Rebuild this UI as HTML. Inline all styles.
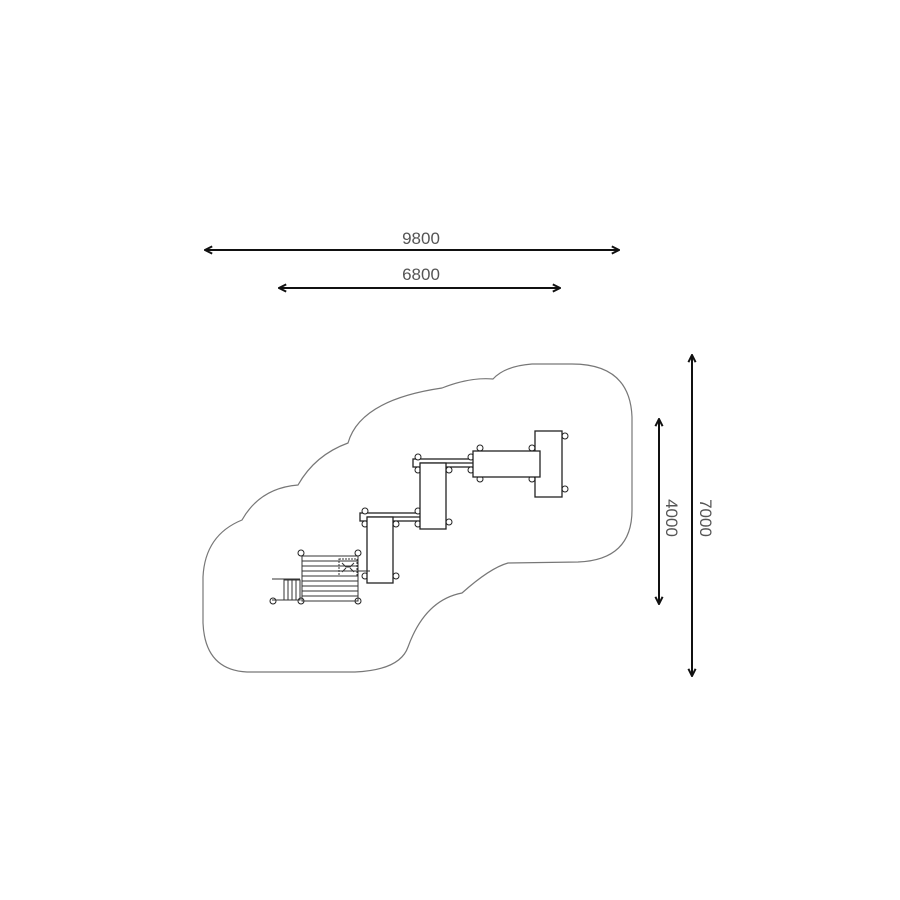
<!DOCTYPE html>
<html><head><style>
html,body{margin:0;padding:0;background:#fff;}
svg{display:block;}
text{font-family:"Liberation Sans",sans-serif;font-size:17px;fill:#555;}
</style></head><body>
<svg width="900" height="900" viewBox="0 0 900 900" xmlns="http://www.w3.org/2000/svg">
<defs>
<marker id="a" viewBox="0 0 10 10" refX="9" refY="5" markerWidth="9" markerHeight="9" orient="auto-start-reverse" markerUnits="userSpaceOnUse"><path d="M1,1 L9,5 L1,9" fill="none" stroke="#111" stroke-width="2.2"/></marker>
</defs>
<g stroke="#111" stroke-width="2" fill="none">
<line x1="205" y1="250" x2="619" y2="250" marker-start="url(#a)" marker-end="url(#a)"/>
<line x1="279" y1="288" x2="560" y2="288" marker-start="url(#a)" marker-end="url(#a)"/>
<line x1="659" y1="419" x2="659" y2="604" marker-start="url(#a)" marker-end="url(#a)"/>
<line x1="692" y1="355" x2="692" y2="676" marker-start="url(#a)" marker-end="url(#a)"/>
</g>
<text x="421" y="244" text-anchor="middle">9800</text>
<text x="421" y="280" text-anchor="middle">6800</text>
<text transform="translate(666,518) rotate(90)" text-anchor="middle">4000</text>
<text transform="translate(700,518) rotate(90)" text-anchor="middle">7000</text>
<path d="M247,672 L355,672 Q400,670 408,647 Q425,600 462,593 Q490,568 508,563 L578,562 Q632,560 632,510 L632,417 Q630,364 572,364 L532,364 Q505,366 493,379 Q470,377 442,388 Q360,400 348,443 Q315,455 298,485 Q260,488 242,520 Q205,535 203,577 L203,623 Q205,670 247,672 Z" fill="none" stroke="#777" stroke-width="1.2"/>
<g stroke="#222" stroke-width="1.3" fill="#fff">
<rect x="413" y="459" width="62" height="8"/>
<line x1="420" y1="463" x2="475" y2="463"/>
<rect x="360" y="513" width="63" height="8"/>
<line x1="367" y1="517" x2="423" y2="517"/>
<g fill="#fff" stroke-width="1">
<circle cx="565" cy="436" r="3"/><circle cx="565" cy="489" r="3"/>
<circle cx="480" cy="448" r="3"/><circle cx="532" cy="448" r="3"/>
<circle cx="480" cy="479" r="3"/><circle cx="532" cy="479" r="3"/>
<circle cx="418" cy="457" r="3"/><circle cx="418" cy="470" r="3"/><circle cx="471" cy="457" r="3"/><circle cx="471" cy="470" r="3"/>
<circle cx="449" cy="470" r="3"/><circle cx="449" cy="522" r="3"/>
<circle cx="365" cy="511" r="3"/><circle cx="365" cy="524" r="3"/><circle cx="418" cy="511" r="3"/><circle cx="418" cy="524" r="3"/>
<circle cx="396" cy="524" r="3"/><circle cx="396" cy="576" r="3"/><circle cx="365" cy="576" r="3"/>
<circle cx="301" cy="553" r="3"/><circle cx="358" cy="553" r="3"/><circle cx="301" cy="601" r="3"/><circle cx="358" cy="601" r="3"/>
<circle cx="273" cy="601" r="3"/>
</g>
<rect x="535" y="431" width="27" height="66"/>
<rect x="473" y="451" width="67" height="26"/>
<rect x="420" y="463" width="26" height="66"/>
<rect x="367" y="517" width="26" height="66"/>
</g>
<g stroke="#333" stroke-width="1" fill="none">
<rect x="302" y="556" width="56" height="45"/>
<line x1="302" y1="561" x2="358" y2="561"/><line x1="302" y1="566" x2="358" y2="566"/>
<line x1="302" y1="571" x2="370" y2="571"/><line x1="302" y1="576" x2="358" y2="576"/>
<line x1="302" y1="581" x2="358" y2="581"/><line x1="302" y1="586" x2="358" y2="586"/>
<line x1="302" y1="591" x2="358" y2="591"/><line x1="302" y1="596" x2="358" y2="596"/>
<rect x="339" y="559" width="18" height="17" stroke-dasharray="2,1"/>
<path d="M342,563 L346,567 L350,567 L354,563 M342,572 L346,568 M350,568 L354,572"/>
<rect x="284" y="580" width="16" height="20"/>
<line x1="272" y1="579" x2="300" y2="579"/><line x1="272" y1="600" x2="300" y2="600"/>
<line x1="288" y1="580" x2="288" y2="600"/><line x1="292" y1="580" x2="292" y2="600"/><line x1="296" y1="580" x2="296" y2="600"/>
</g>
</svg>
</body></html>
